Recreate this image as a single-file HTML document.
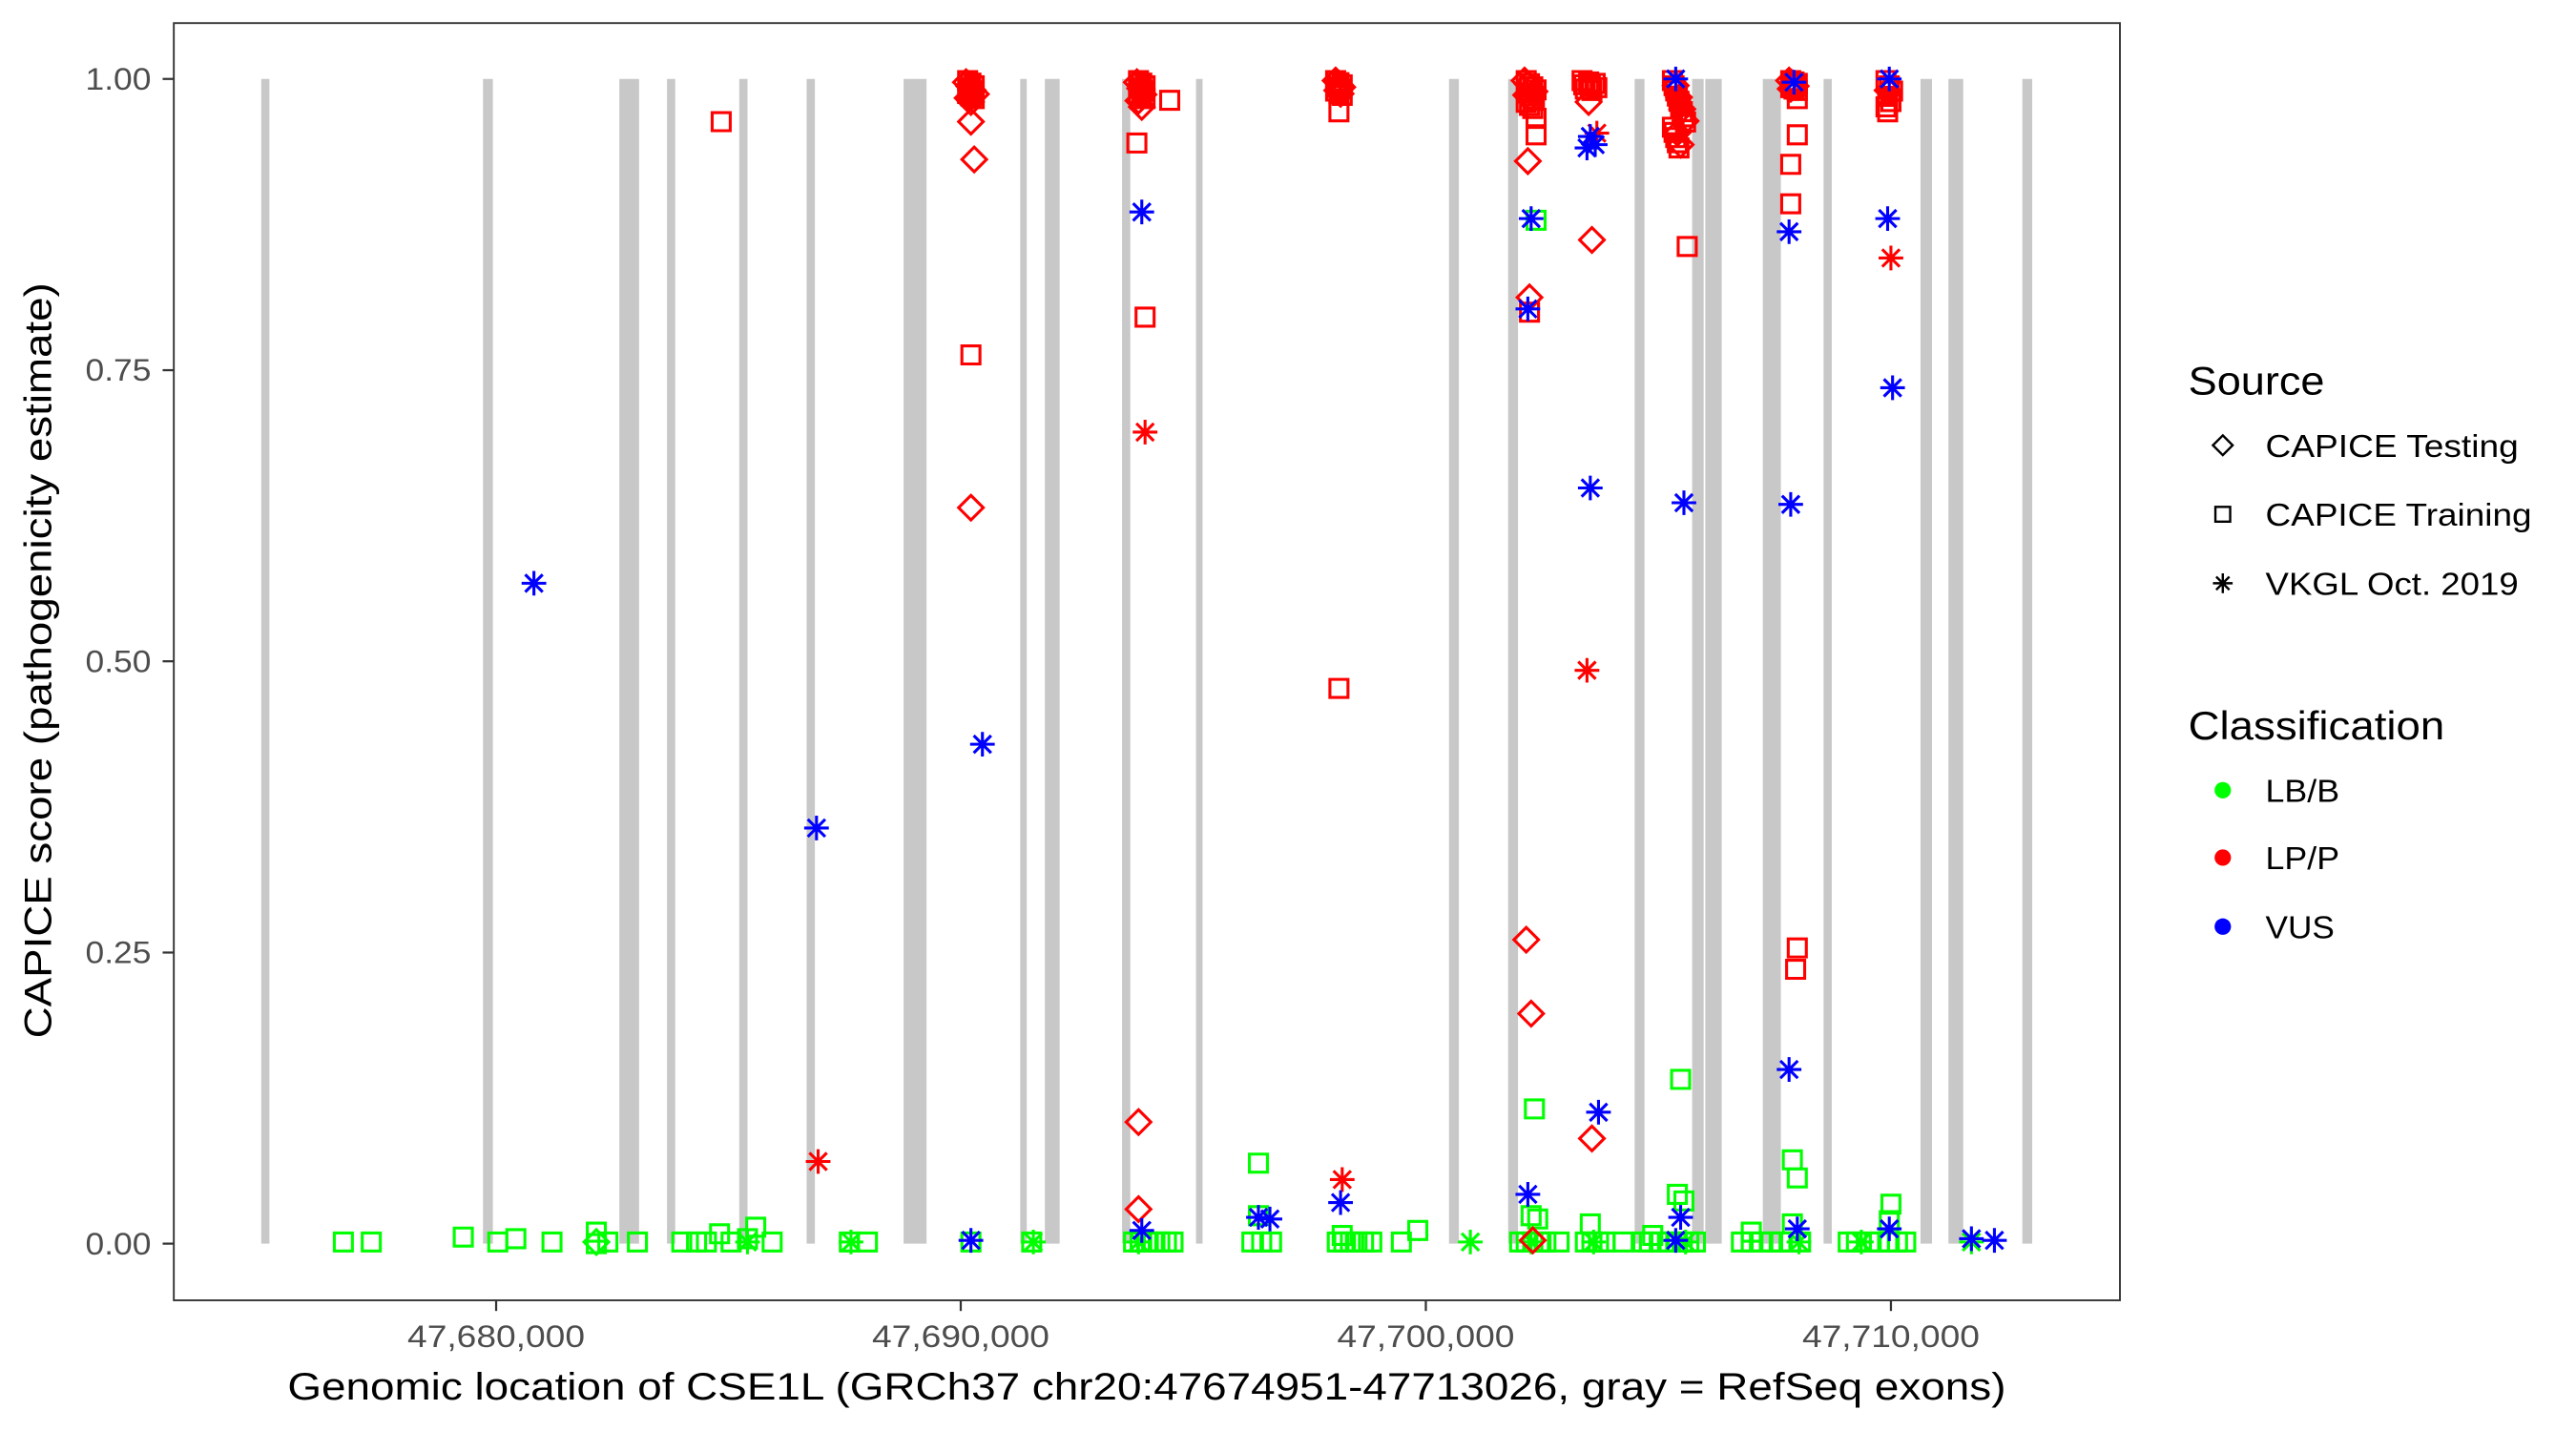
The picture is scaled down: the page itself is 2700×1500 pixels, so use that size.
<!DOCTYPE html>
<html><head><meta charset="utf-8"><style>html,body{margin:0;padding:0;background:#fff}svg{display:block}</style></head>
<body>
<svg id="s" width="2700" height="1500" viewBox="0 0 1568 871" xmlns="http://www.w3.org/2000/svg" font-family="Liberation Sans, Arial, sans-serif">
<rect x="0" y="0" width="1568" height="871" fill="#fff"/>
<g id="bars" fill="#c8c8c8"></g>
<g id="pts" fill="none" stroke-width="1.8"></g>
<rect x="105.8" y="14" width="1184.6" height="777.5" fill="none" stroke="#333" stroke-width="1.1"/>
<g stroke="#333" stroke-width="1.3">
<line x1="99" x2="105.8" y1="48" y2="48"/><line x1="99" x2="105.8" y1="225.3" y2="225.3"/><line x1="99" x2="105.8" y1="402.5" y2="402.5"/><line x1="99" x2="105.8" y1="579.8" y2="579.8"/><line x1="99" x2="105.8" y1="757" y2="757"/>
<line x1="302" x2="302" y1="791.5" y2="798"/><line x1="584.8" x2="584.8" y1="791.5" y2="798"/><line x1="867.9" x2="867.9" y1="791.5" y2="798"/><line x1="1151" x2="1151" y1="791.5" y2="798"/>
</g>
<g fill="#4d4d4d" font-size="19" text-anchor="end">
<text x="92" y="54.5" textLength="40" lengthAdjust="spacingAndGlyphs">1.00</text><text x="92" y="231.8" textLength="40" lengthAdjust="spacingAndGlyphs">0.75</text><text x="92" y="409" textLength="40" lengthAdjust="spacingAndGlyphs">0.50</text><text x="92" y="586.3" textLength="40" lengthAdjust="spacingAndGlyphs">0.25</text><text x="92" y="763.5" textLength="40" lengthAdjust="spacingAndGlyphs">0.00</text>
</g>
<g fill="#4d4d4d" font-size="19" text-anchor="middle">
<text x="302" y="820" textLength="108" lengthAdjust="spacingAndGlyphs">47,680,000</text><text x="584.8" y="820" textLength="108" lengthAdjust="spacingAndGlyphs">47,690,000</text><text x="867.9" y="820" textLength="108" lengthAdjust="spacingAndGlyphs">47,700,000</text><text x="1151" y="820" textLength="108" lengthAdjust="spacingAndGlyphs">47,710,000</text>
</g>
<text x="698" y="852" font-size="23" text-anchor="middle" textLength="1046" lengthAdjust="spacingAndGlyphs">Genomic location of CSE1L (GRCh37 chr20:47674951-47713026, gray = RefSeq exons)</text>
<text transform="translate(31,402) rotate(-90)" font-size="23" text-anchor="middle" textLength="460" lengthAdjust="spacingAndGlyphs">CAPICE score (pathogenicity estimate)</text>
<g font-size="24"><text x="1332" y="240" textLength="83" lengthAdjust="spacingAndGlyphs">Source</text><text x="1332" y="450" textLength="156" lengthAdjust="spacingAndGlyphs">Classification</text></g>
<g font-size="19.5">
<text x="1379" y="278" textLength="154" lengthAdjust="spacingAndGlyphs">CAPICE Testing</text>
<text x="1379" y="320" textLength="162" lengthAdjust="spacingAndGlyphs">CAPICE Training</text>
<text x="1379" y="362" textLength="154" lengthAdjust="spacingAndGlyphs">VKGL Oct. 2019</text>
<text x="1379" y="488" textLength="45" lengthAdjust="spacingAndGlyphs">LB/B</text><text x="1379" y="529" textLength="45" lengthAdjust="spacingAndGlyphs">LP/P</text><text x="1379" y="571" textLength="42" lengthAdjust="spacingAndGlyphs">VUS</text>
</g>
<g stroke="#000" stroke-width="1.4" fill="none">
<path d="M1353 265 L1359 271 L1353 277 L1347 271 Z"/>
<rect x="1348.5" y="308.5" width="9" height="9"/>
<path d="M1353 349 V361 M1347 355 H1359 M1349 351 L1357 359 M1357 351 L1349 359"/>
</g>
<circle cx="1353" cy="481" r="5" fill="#00ff00"/><circle cx="1353" cy="522" r="5" fill="#ff0000"/><circle cx="1353" cy="564" r="5" fill="#0000ff"/>
</svg>
<script>
var NS="http://www.w3.org/2000/svg";
var bars=[[159,164],[294,300],[377,389],[406,411],[450,455],[491,496],[550,564],[621,625],[636,645],[683,688],[728,732],[882,888],[918,924],[995,1001],[1030,1037],[1038,1048],[1073,1084],[1110,1115],[1169,1176],[1186,1195],[1231,1237]];
var bg=document.getElementById('bars');
bars.forEach(function(b){var r=document.createElementNS(NS,'rect');r.setAttribute('x',b[0]);r.setAttribute('width',b[1]-b[0]);r.setAttribute('y',48);r.setAttribute('height',709);bg.appendChild(r);});
var C={g:'#00ff00',r:'#ff0000',b:'#0000ff'};
var P=[];
function add(t,c,x,y){P.push([t,c,x,y]);}
[209,226,303,336,370,388,415,424,430,445,470,517,528,591,628,690,694,698,702,706,710,714,762,768,774,814,818,822,826,830,835,853,925,929,933,937,941,949,965,969,973,977,988,1000,1004,1010,1016,1020,1024,1028,1032,1060,1066,1072,1078,1084,1090,1096,1125,1130,1138,1144,1150,1155,1160].forEach(function(x){add('s','g',x,756);});
add('s','g',282,753);add('s','g',314,754);add('s','g',363,750);add('s','g',363,757);add('s','g',438,751);add('s','g',455,754);add('s','g',460,747);add('s','g',863,749);
add('s','g',935,134);add('s','g',934,675);add('s','g',1023,657);add('s','g',766,708);add('s','g',1094,717);add('s','g',1091,706);add('s','g',1151,733);add('s','g',1021,727);add('s','g',1025,731);add('s','g',932,740);add('s','g',936,742);add('s','g',766,740);add('s','g',1091,745);add('s','g',1150,743);add('s','g',968,745);add('s','g',1006,752);add('s','g',1066,750);add('s','g',817,752);
[455,518,629,895,1133,1200,693,932,1026,1095,970].forEach(function(x){add('a','g',x,756);});
add('d','g',363,756);
add('s','r',439,74);
function cluster(t,x,y0,y1,n,dx){for(var i=0;i<n;i++){add(t,'r',x+((i*37)%(2*dx+1))-dx,y0+(y1-y0)*i/(n-1||1));}}
cluster('s',591,49,60,8,2);cluster('d',591,50,62,6,3);add('d','r',591,74);add('d','r',593,97);add('s','r',591,216);add('d','r',591,309);
cluster('s',695,49,60,8,2);cluster('d',694,50,65,5,2);add('s','r',692,87);add('s','r',697,193);add('a','r',697,263);add('d','r',693,683);add('d','r',693,736);add('s','r',712,61);
cluster('s',815,49,58,8,2);cluster('d',815,49,57,5,2);add('s','r',815,68);add('s','r',815,419);add('a','r',817,718);
cluster('s',932,49,66,10,3);cluster('d',931,49,60,6,3);add('d','r',930,98);add('s','r',935,72);add('s','r',935,82);add('d','r',931,181);add('s','r',931,190);add('d','r',929,572);add('d','r',932,617);add('d','r',933,755);
cluster('s',968,49,55,8,5);add('d','r',967,62);add('a','r',972,81);add('d','r',969,146);add('a','r',966,408);add('d','r',969,693);
cluster('s',1022,49,90,14,4);cluster('d',1023,52,88,6,3);add('s','r',1027,150);
cluster('s',1092,49,55,8,2);cluster('d',1091,49,54,4,2);add('s','r',1094,60);add('s','r',1094,82);add('s','r',1090,100);add('s','r',1090,124);add('s','r',1094,577);add('s','r',1093,590);
cluster('s',1150,49,65,6,2);add('d','r',1149,55);add('s','r',1149,68);add('a','r',1151,157);add('a','r',498,707);
[[325,355],[497,504],[598,453],[591,755],[695,129],[695,749],[766,741],[773,742],[816,732],[930,188],[932,133],[930,727],[968,83],[971,88],[966,90],[968,297],[973,677],[1020,48],[1025,306],[1023,741],[1020,755],[1089,141],[1090,307],[1089,651],[1094,748],[1092,50],[1149,133],[1152,236],[1150,48],[1150,748],[1200,754],[1214,755]].forEach(function(p){add('a','b',p[0],p[1]);});
var g=document.getElementById('pts');
P.forEach(function(p){var el=document.createElementNS(NS,'path'),x=p[2],y=p[3],d;
if(p[0]=='s')d='M'+(x-5.5)+' '+(y-5.5)+'h11v11h-11z';
else if(p[0]=='d')d='M'+x+' '+(y-7.5)+'L'+(x+7.5)+' '+y+'L'+x+' '+(y+7.5)+'L'+(x-7.5)+' '+y+'z';
else d='M'+x+' '+(y-7.5)+'V'+(y+7.5)+'M'+(x-7.5)+' '+y+'H'+(x+7.5)+'M'+(x-5.3)+' '+(y-5.3)+'L'+(x+5.3)+' '+(y+5.3)+'M'+(x+5.3)+' '+(y-5.3)+'L'+(x-5.3)+' '+(y+5.3);
el.setAttribute('d',d);el.setAttribute('stroke',C[p[1]]);g.appendChild(el);});
</script>
</body></html>
